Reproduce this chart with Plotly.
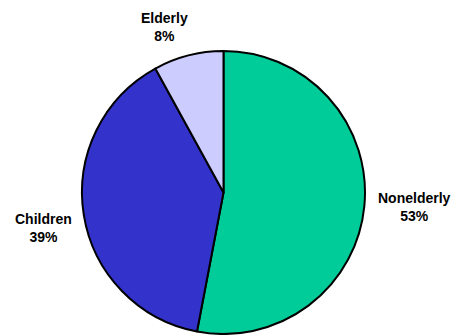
import plotly.graph_objects as go

# Population shares
labels = ["Nonelderly", "Children", "Elderly"]
values = [53, 39, 8]
colors = ["#00CC99", "#3333CC", "#CCCCFF"]

W, H = 458, 335

fig = go.Figure(
    go.Pie(
        labels=labels,
        values=values,
        sort=False,
        direction="clockwise",
        rotation=0,
        marker=dict(colors=colors, line=dict(color="black", width=2)),
        textinfo="none",
        hoverinfo="label+percent",
        showlegend=False,
        domain=dict(x=[82 / W, 365 / W], y=[1 / H, 284 / H]),
    )
)

# Label positions (pixel coords of the text centre)
label_pos = {"Nonelderly": (414, 207), "Children": (43, 228), "Elderly": (164, 27)}
total = sum(values)
for lab, val in zip(labels, values):
    px, py = label_pos[lab]
    fig.add_annotation(
        x=px / W, y=1 - py / H, xref="paper", yref="paper",
        xanchor="center", yanchor="middle",
        text=f"<b>{lab}</b><br><b>{round(100 * val / total)}%</b>",
        showarrow=False, align="center",
        font=dict(family="Liberation Sans, Arial, sans-serif", size=14, color="black"),
    )

fig.update_layout(
    width=W, height=H,
    margin=dict(l=0, r=0, t=0, b=0),
    paper_bgcolor="white", plot_bgcolor="white",
)

fig.write_html("out.html")
